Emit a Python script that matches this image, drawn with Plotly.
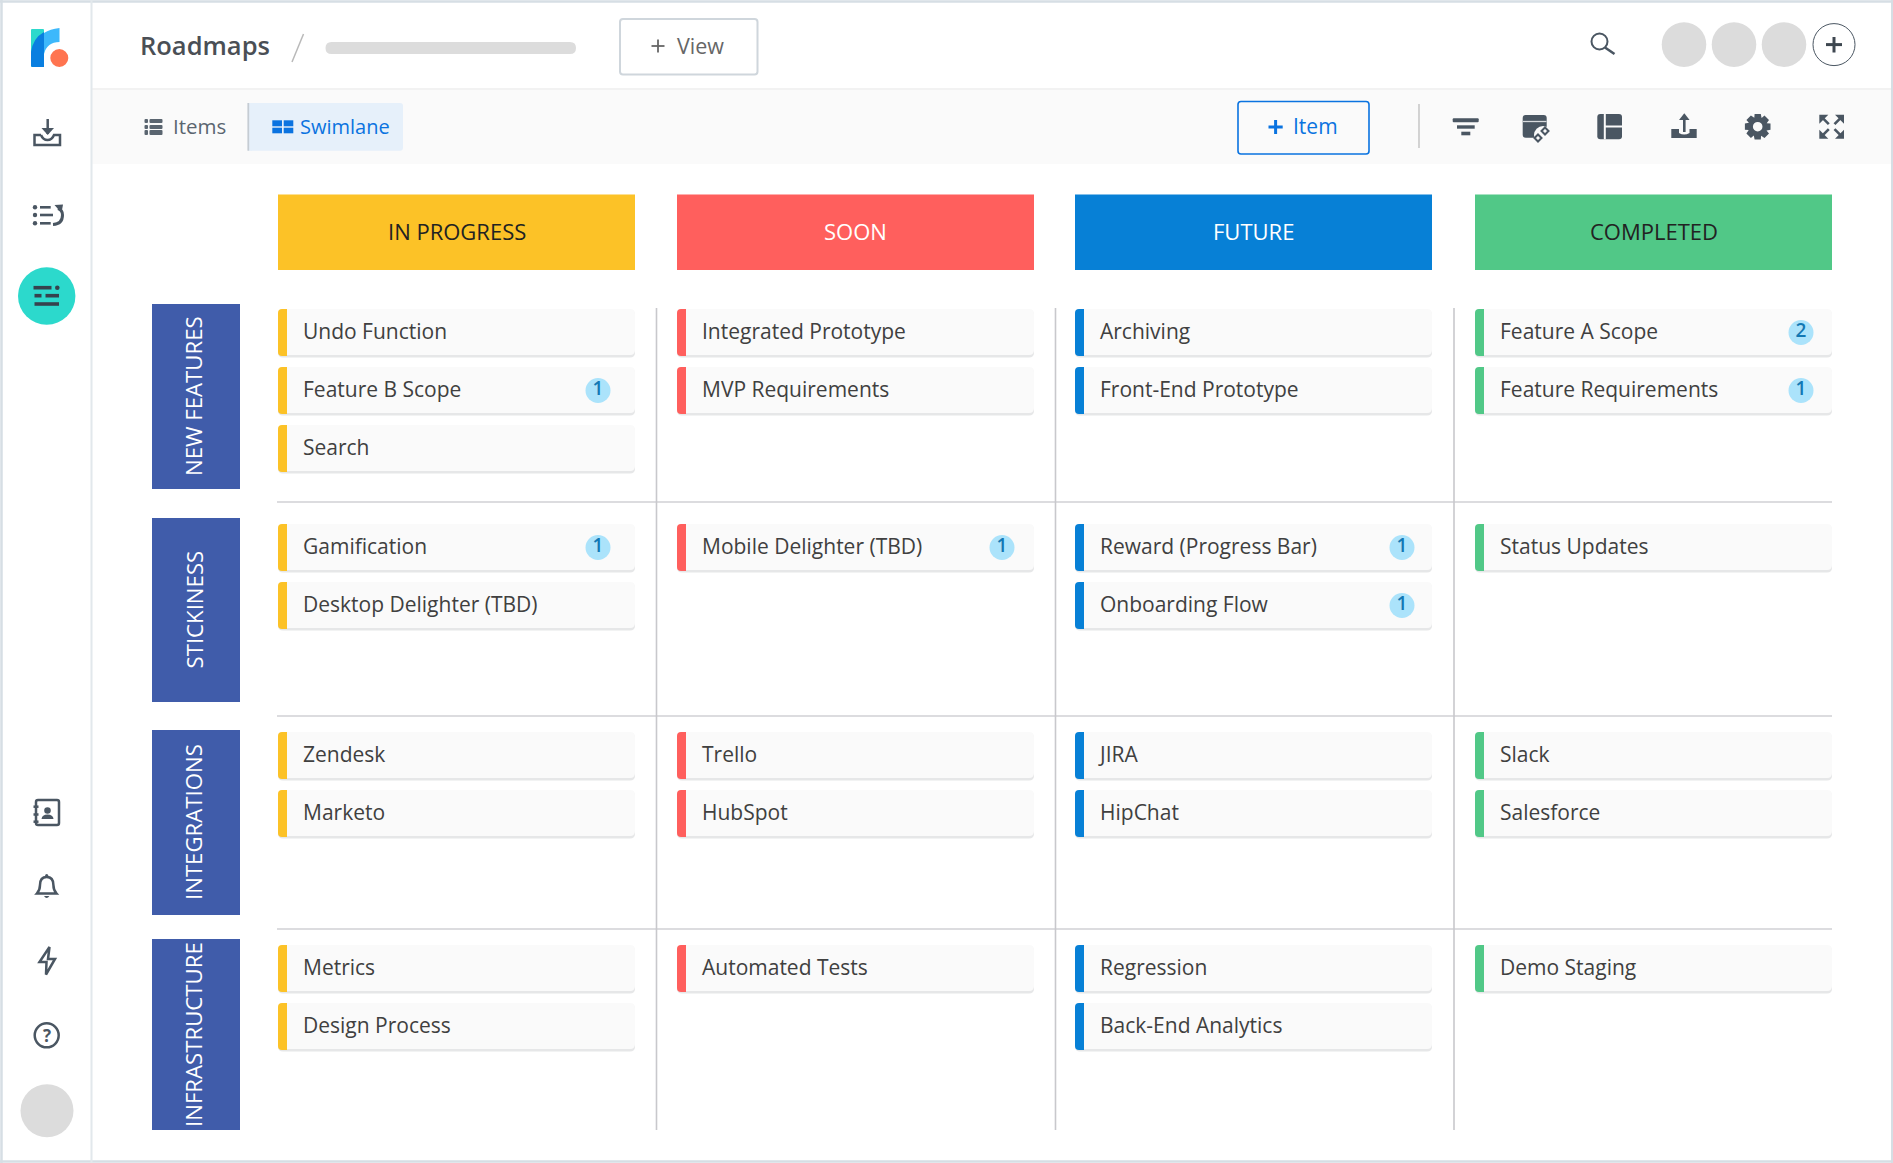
import math
import plotly.graph_objects as go

# board content
columns = ["IN PROGRESS", "SOON", "FUTURE", "COMPLETED"]
column_colors = ["#fcc227", "#ff5f5d", "#0780d6", "#51c887"]
column_text_colors = ["#222222", "#ffffff", "#ffffff", "#222222"]
lanes = ["NEW FEATURES", "STICKINESS", "INTEGRATIONS", "INFRASTRUCTURE"]

items_in_progress = [["Undo Function", "Feature B Scope", "Search"], ["Gamification", "Desktop Delighter (TBD)"],
                     ["Zendesk", "Marketo"], ["Metrics", "Design Process"]]
items_soon = [["Integrated Prototype", "MVP Requirements"], ["Mobile Delighter (TBD)"],
              ["Trello", "HubSpot"], ["Automated Tests"]]
items_future = [["Archiving", "Front-End Prototype"], ["Reward (Progress Bar)", "Onboarding Flow"],
                ["JIRA", "HipChat"], ["Regression", "Back-End Analytics"]]
items_completed = [["Feature A Scope", "Feature Requirements"], ["Status Updates"],
                   ["Slack", "Salesforce"], ["Demo Staging"]]

badges_in_progress = [[0, 1, 0], [1, 0], [0, 0], [0, 0]]
badges_soon = [[0, 0], [1], [0, 0], [0]]
badges_future = [[0, 0], [1, 1], [0, 0], [0, 0]]
badges_completed = [[2, 1], [0], [0, 0], [0]]

all_items = [items_in_progress, items_soon, items_future, items_completed]
all_badges = [badges_in_progress, badges_soon, badges_future, badges_completed]

# page geometry, the axes run in page pixels
W, H = 1893, 1163
COL_X = [278, 677, 1075, 1475]
COL_W = 357
BADGE_DX = [320, 325, 327, 326]
LANE_TOP = [304, 518, 730, 939]
LANE_BOTTOM = [489, 702, 915, 1130]
FIRST_CARD = [332.5, 547.5, 755.5, 968.5]
CARD_STEP = 58
SEPARATORS = [502, 716, 929]
DIVIDERS = [656.5, 1055.5, 1454]
FONT = "Open Sans"
ICON = "#4a5662"

shapes = []
notes = []


def rr(x0, y0, x1, y1, r):
    return (f"M{x0+r},{y0} L{x1-r},{y0} Q{x1},{y0} {x1},{y0+r} L{x1},{y1-r} Q{x1},{y1} {x1-r},{y1} "
            f"L{x0+r},{y1} Q{x0},{y1} {x0},{y1-r} L{x0},{y0+r} Q{x0},{y0} {x0+r},{y0} Z")


def box(x0, y0, x1, y1, fill="rgba(0,0,0,0)", line=None, lw=0, r=0, layer="above"):
    s = dict(layer=layer, fillcolor=fill, line=dict(color=line or "rgba(0,0,0,0)", width=lw))
    if r:
        s.update(type="path", path=rr(x0, y0, x1, y1, r))
    else:
        s.update(type="rect", x0=x0, y0=y0, x1=x1, y1=y1)
    shapes.append(s)


def seg(x0, y0, x1, y1, color=ICON, lw=2.5, layer="above"):
    shapes.append(dict(type="line", x0=x0, y0=y0, x1=x1, y1=y1, layer=layer, line=dict(color=color, width=lw)))


def dot(cx, cy, r, fill="#dcdcdc", line=None, lw=0):
    shapes.append(dict(type="circle", x0=cx - r, y0=cy - r, x1=cx + r, y1=cy + r, fillcolor=fill,
                       line=dict(color=line or "rgba(0,0,0,0)", width=lw)))


def path(d, fill="rgba(0,0,0,0)", line=None, lw=0):
    shapes.append(dict(type="path", path=d, fillcolor=fill, line=dict(color=line or "rgba(0,0,0,0)", width=lw)))


def note(x, y, text, size=20, color="#444444", anchor="left", angle=0, weight=None):
    notes.append(dict(x=x, y=y, text=text, showarrow=False, xanchor=anchor, yanchor="middle", textangle=angle,
                      font=dict(family=FONT, size=size, color=color, weight=weight)))


# frame and bands
box(92, 89, W - 2, 164, fill="#fafafa", layer="below")
seg(92, 89, W - 2, 89, color="#f2f2f2", lw=2, layer="below")
seg(0, 1.5, W, 1.5, color="#d6dee4", lw=2.5, layer="below")
seg(1.5, 0, 1.5, H, color="#d6dee4", lw=2.5, layer="below")
seg(W - 1, 0, W - 1, H, color="#d6dee4", lw=2, layer="below")
seg(0, H - 1.5, W, H - 1.5, color="#d6dee4", lw=2.5, layer="below")
seg(91.5, 0, 91.5, H, color="#e2e8ec", lw=2, layer="below")

# logo
box(31, 29, 44, 67, fill="#2cd9cc", r=1)
path("M44,33 Q50,29 59.5,28 L59.5,42 Q47,42 44,54 Z", fill="#3db8fb")
path("M31,66 L31,52 Q33,38 44,32 L44,67 L32,67 Z", fill="#0a7fe0")
dot(59.3, 58, 9, fill="#ff7450")

# left rail icons
seg(47.7, 119, 47.7, 134)
path("M41.5,128 L47.7,135 L54,128 Z", fill=ICON)
path("M41,135 L34.5,135 L34.5,145 L60,145 L60,135 L54,135 Q52,140 47.5,140 Q43,140 41,135", line=ICON, lw=2.5)
for y, x1 in zip([207.3, 215, 223.3], [50.7, 53, 50.7]):
    dot(35, y, 2.2, fill=ICON)
    seg(40, y, x1, y, lw=2.6)
path("M53,224.5 Q62.5,224 62.5,215 Q62.5,210 58,208.5", line=ICON, lw=3)
path("M54.5,205 L63,204.5 L61.5,213 Z", fill=ICON)
dot(46.7, 296, 28.7, fill="#2cd9cc")
for x0, x1, y in [(33.5, 51.5, 287.7), (34.5, 41.5, 295.7), (45.5, 59, 295.7), (34.5, 59, 304)]:
    seg(x0, y, x1, y, color="#36424d", lw=3.6)
dot(57.3, 287.7, 2.3, fill="#36424d")

box(36, 800, 59, 825, line=ICON, lw=2.5, r=2)
for y in [806.7, 814.5, 821.7]:
    seg(33.5, y, 38.5, y, lw=2.5)
dot(47.5, 810.5, 3.3, fill=ICON)
path("M41.5,819 Q42,814.5 47.5,814.5 Q53,814.5 53.5,819 Z", fill=ICON)

path("M40,885 Q40,877 46.7,877 Q53.4,877 53.4,885 Q53.4,890 56.5,893.5 L36.9,893.5 Q40,890 40,885 Z",
     line=ICON, lw=2.5)
dot(46.7, 875.5, 1.6, fill=ICON)
path("M44,896 Q46.7,900 49.4,896 Z", fill=ICON)
path("M49.5,947 L39.5,962 L46.5,962 L46,974.5 L55,959 L48,959 Z", line=ICON, lw=2.5)
dot(46.7, 1035.3, 12, fill="#ffffff", line=ICON, lw=2.5)
note(46.7, 1035.3, "?", size=17, color=ICON, anchor="center", weight=700)
dot(47, 1110.7, 26.5)

# top bar
note(137.5, 45, "Roadmaps", size=25.5, color="#4a4f55", weight=600)
seg(303.5, 34, 292, 62, color="#b9b9b9", lw=1.5)
box(325.5, 42, 576, 54, fill="#dcdcdc", r=6)
box(620, 19, 757.5, 74.5, fill="#ffffff", line="#cfd6dc", lw=2, r=3)
seg(658, 39.5, 658, 52.5, color="#666666", lw=1.8)
seg(651.5, 46, 664.5, 46, color="#666666", lw=1.8)
note(674.5, 45.5, "View", size=21.5, color="#666666")
dot(1599.5, 41.5, 8, fill="rgba(0,0,0,0)", line=ICON, lw=2)
seg(1605, 47.5, 1614.5, 54, lw=2.6)
for cx in [1684, 1734, 1784]:
    dot(cx, 44.6, 22.3)
dot(1834, 44.6, 21, fill="#ffffff", line=ICON, lw=1)
seg(1834, 37, 1834, 52.5, color="#3e4750", lw=3)
seg(1826, 44.6, 1842, 44.6, color="#3e4750", lw=3)

# toolbar
for y0, y1 in [(119, 123), (125, 129), (130, 135)]:
    box(144.5, y0, 148, y1, fill="#5a6570", r=1)
    box(149.5, y0, 162.5, y1, fill="#5a6570", r=1)
note(170.5, 126, "Items", size=20.5, color="#5a6570")
box(249, 103, 403, 150.7, fill="#e6f0fa", r=3, layer="below")
box(248, 103, 252, 150.7, fill="#e6f0fa", layer="below")
seg(248.3, 103, 248.3, 150.7, color="#c5ccd3", lw=1.8, layer="below")
for x0, x1 in [(272.3, 282), (283.7, 293.3)]:
    for y0, y1 in [(120.3, 126.3), (127.7, 133.3)]:
        box(x0, y0, x1, y1, fill="#0a73e0")
note(297.5, 126, "Swimlane", size=20, color="#0a73e0", weight=500)
box(1238, 101.5, 1369, 154, line="#0a73e0", lw=1.6, r=3)
seg(1275.6, 120, 1275.6, 134, color="#0a73e0", lw=3)
seg(1268.5, 127, 1282.7, 127, color="#0a73e0", lw=3)
note(1291, 126, "Item", size=21, color="#0a73e0")
seg(1419, 104, 1419, 148, color="#c9c9c9", lw=1.6)

box(1452.7, 118.3, 1478.7, 122.3, fill=ICON, r=1)
box(1457, 125.3, 1474.7, 128.7, fill=ICON)
box(1461.3, 131.7, 1470.3, 135.3, fill=ICON)

box(1522.7, 115, 1546.7, 137.7, fill=ICON, r=3)
seg(1523, 121.5, 1546.5, 121.5, color="#d8dbde", lw=1.3)
dot(1543, 135, 9, fill="#fafafa")
path("M1538,134.5 L1541.5,138 L1538,141.5 L1534.5,138 Z", line=ICON, lw=2)
path("M1545,127.5 L1548.5,131 L1545,134.5 L1541.5,131 Z", line=ICON, lw=2)

box(1597.3, 114, 1622, 139.3, fill=ICON, r=3)
seg(1604.8, 114, 1604.8, 139.3, color="#fafafa", lw=2)
seg(1605, 126.5, 1622, 126.5, color="#fafafa", lw=2)

path("M1671.3,129 L1679,129 L1679,133 Q1684,136 1689.5,133 L1689.5,129 L1696.7,129 L1696.7,138 L1671.3,138 Z", fill=ICON)
seg(1684.3, 118, 1684.3, 132, lw=2.6)
path("M1679,120 L1684.3,113.3 L1689.6,120 Z", fill=ICON)

gear = []
for k in range(8):
    a = k * math.pi / 4 - math.pi / 2
    for da, rad in [(-0.24, 13.2), (0.24, 13.2), (0.42, 9.6)]:
        gear.append((1757.7 + rad * math.cos(a + da), 126.7 + rad * math.sin(a + da)))
path("M" + " L".join(f"{x:.1f},{y:.1f}" for x, y in gear) + " Z", fill=ICON)
dot(1757.7, 126.7, 4.8, fill="#fafafa")

for cx, sx, cy, sy in [(1819.3, 1, 114.7, 1), (1844, -1, 114.7, 1), (1819.3, 1, 138.7, -1), (1844, -1, 138.7, -1)]:
    path(f"M{cx},{cy} L{cx+sx*9},{cy} L{cx},{cy+sy*9} Z", fill=ICON)
    seg(cx + sx * 3, cy + sy * 3, cx + sx * 9.5, cy + sy * 9.5, lw=2.6)

# board frame
for c, name in enumerate(columns):
    box(COL_X[c], 194.5, COL_X[c] + COL_W, 270, fill=column_colors[c], layer="below")
    note(COL_X[c] + COL_W / 2, 231, name, size=22, color=column_text_colors[c], anchor="center", weight=500)

for r, name in enumerate(lanes):
    box(152, LANE_TOP[r], 240, LANE_BOTTOM[r], fill="#405caa", layer="below")
    note(193.5, (LANE_TOP[r] + LANE_BOTTOM[r]) / 2, name, size=22.2, color="#ffffff", anchor="center", angle=-90)

for y in SEPARATORS:
    seg(277, y, 1832, y, color="#d0d0d4", lw=1.6, layer="below")
for x in DIVIDERS:
    seg(x, 308, x, 1130, color="#c8c8cc", lw=1.6, layer="below")

# cards
label_x, label_y, label_text = [], [], []
badge_x, badge_y, badge_text = [], [], []
for c, lane_items in enumerate(all_items):
    for r, names in enumerate(lane_items):
        for i, name in enumerate(names):
            cy = FIRST_CARD[r] + i * CARD_STEP
            x0, x1 = COL_X[c], COL_X[c] + COL_W
            box(x0, cy - 22.5, x1, cy + 25, fill="#e6e7e8", r=5, layer="below")
            box(x0, cy - 23.5, x1, cy + 22.5, fill="#fafafa", r=5, layer="below")
            box(x0, cy - 23.5, x0 + 9, cy + 23.5, fill=column_colors[c], r=4, layer="below")
            box(x0 + 5, cy - 23.5, x0 + 9, cy + 23.5, fill=column_colors[c], layer="below")
            label_x.append(x0 + 25)
            label_y.append(cy + 1.2)
            label_text.append(name)
            n = all_badges[c][r][i]
            if n:
                badge_x.append(x0 + BADGE_DX[c])
                badge_y.append(cy)
                badge_text.append(str(n))

fig = go.Figure()
fig.add_trace(go.Scatter(x=label_x, y=label_y, text=label_text, mode="text", textposition="middle right",
                         textfont=dict(family=FONT, size=21, color="#404040"), hoverinfo="skip"))
fig.add_trace(go.Scatter(x=badge_x, y=badge_y, text=badge_text, mode="markers+text", textposition="middle center",
                         marker=dict(size=25, color="#abe3fb"),
                         textfont=dict(family=FONT, size=19, color="#1278b4", weight=600), hoverinfo="skip"))

fig.update_layout(
    width=W,
    height=H,
    margin=dict(l=0, r=0, t=0, b=0),
    paper_bgcolor="#ffffff",
    plot_bgcolor="#ffffff",
    showlegend=False,
    shapes=shapes,
    annotations=notes,
    xaxis=dict(range=[0, W], visible=False, fixedrange=True),
    yaxis=dict(range=[H, 0], visible=False, fixedrange=True),
)

fig.write_html("out.html", config=dict(displayModeBar=False),
               post_script="document.body.style.margin='0';document.body.style.overflow='hidden';")
